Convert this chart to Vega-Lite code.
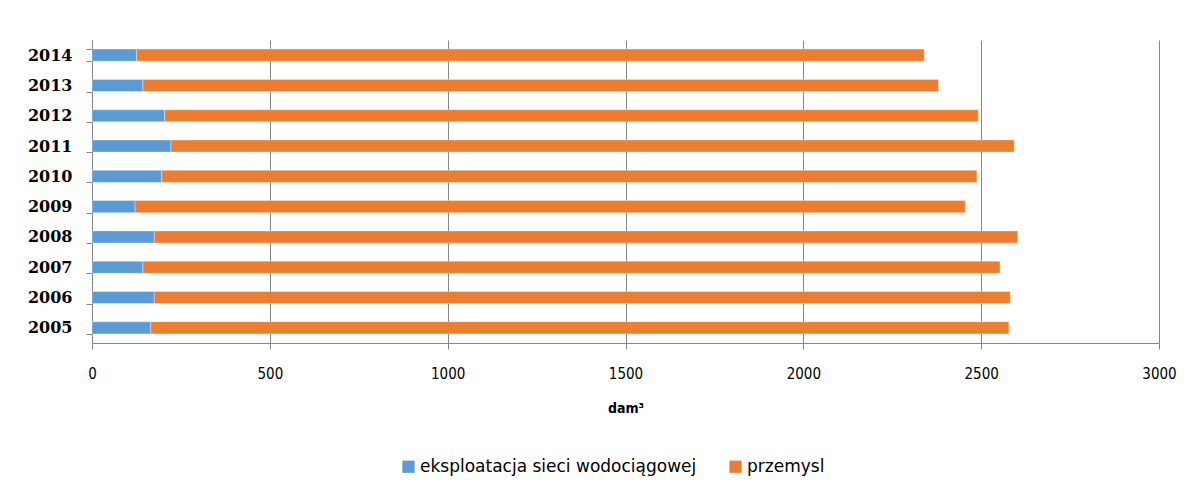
{
  "$schema": "https://vega.github.io/schema/vega-lite/v6.json",
  "width": 1067,
  "height": 303,
  "autosize": {"type": "none"},
  "padding": {"left": 92, "top": 40, "right": 38, "bottom": 159},
  "background": "white",
  "data": {"values": [
    {"rok": "2005", "kategoria": "eksploatacja sieci wodociągowej", "wartosc": 165, "kolejnosc": 1},
    {"rok": "2005", "kategoria": "przemysl", "wartosc": 2413, "kolejnosc": 2},
    {"rok": "2006", "kategoria": "eksploatacja sieci wodociągowej", "wartosc": 175, "kolejnosc": 1},
    {"rok": "2006", "kategoria": "przemysl", "wartosc": 2407, "kolejnosc": 2},
    {"rok": "2007", "kategoria": "eksploatacja sieci wodociągowej", "wartosc": 143, "kolejnosc": 1},
    {"rok": "2007", "kategoria": "przemysl", "wartosc": 2410, "kolejnosc": 2},
    {"rok": "2008", "kategoria": "eksploatacja sieci wodociągowej", "wartosc": 175, "kolejnosc": 1},
    {"rok": "2008", "kategoria": "przemysl", "wartosc": 2428, "kolejnosc": 2},
    {"rok": "2009", "kategoria": "eksploatacja sieci wodociągowej", "wartosc": 121, "kolejnosc": 1},
    {"rok": "2009", "kategoria": "przemysl", "wartosc": 2334, "kolejnosc": 2},
    {"rok": "2010", "kategoria": "eksploatacja sieci wodociągowej", "wartosc": 196, "kolejnosc": 1},
    {"rok": "2010", "kategoria": "przemysl", "wartosc": 2292, "kolejnosc": 2},
    {"rok": "2011", "kategoria": "eksploatacja sieci wodociągowej", "wartosc": 222, "kolejnosc": 1},
    {"rok": "2011", "kategoria": "przemysl", "wartosc": 2371, "kolejnosc": 2},
    {"rok": "2012", "kategoria": "eksploatacja sieci wodociągowej", "wartosc": 204, "kolejnosc": 1},
    {"rok": "2012", "kategoria": "przemysl", "wartosc": 2288, "kolejnosc": 2},
    {"rok": "2013", "kategoria": "eksploatacja sieci wodociągowej", "wartosc": 143, "kolejnosc": 1},
    {"rok": "2013", "kategoria": "przemysl", "wartosc": 2237, "kolejnosc": 2},
    {"rok": "2014", "kategoria": "eksploatacja sieci wodociągowej", "wartosc": 125, "kolejnosc": 1},
    {"rok": "2014", "kategoria": "przemysl", "wartosc": 2215, "kolejnosc": 2}
  ]},
  "mark": {"type": "bar", "stroke": "white", "strokeOpacity": 0.35, "strokeWidth": 1},
  "encoding": {
    "y": {
      "field": "rok", "type": "nominal", "sort": "descending",
      "scale": {"paddingInner": 0.6, "paddingOuter": 0.3},
      "axis": {
        "title": null, "labelFont": "DejaVu Serif", "labelFontWeight": "bold",
        "labelFontSize": 16, "labelColor": "#000000", "labelPadding": 14,
        "tickBand": "extent", "tickColor": "#868686", "tickSize": 6,
        "domainColor": "#868686", "grid": false
      }
    },
    "x": {
      "field": "wartosc", "type": "quantitative", "stack": "zero",
      "scale": {"domain": [0, 3000], "nice": false},
      "axis": {
        "title": "dam³", "titleFont": "DejaVu Sans Condensed, Liberation Sans", "titleFontWeight": "bold",
        "titleFontSize": 14, "titleColor": "#000000", "titlePadding": 20,
        "values": [0, 500, 1000, 1500, 2000, 2500, 3000], "format": "d", "labelFlush": false,
        "labelFont": "DejaVu Sans Condensed, Liberation Sans", "labelFontSize": 15,
        "labelColor": "#000000", "labelPadding": 17,
        "tickColor": "#868686", "tickSize": 6, "domainColor": "#868686",
        "grid": true, "gridColor": "#868686", "gridWidth": 1
      }
    },
    "color": {
      "field": "kategoria", "type": "nominal",
      "scale": {"domain": ["eksploatacja sieci wodociągowej", "przemysl"], "range": ["#5B9BD5", "#ED7D31"]},
      "legend": {
        "title": null, "orient": "none", "direction": "horizontal",
        "legendX": 308, "legendY": 418, "symbolType": "square", "symbolSize": 150,
        "symbolStrokeWidth": 0, "labelFont": "DejaVu Sans", "labelFontSize": 17,
        "labelColor": "#000000", "columnPadding": 30, "labelOffset": 3, "labelLimit": 0
      }
    },
    "order": {"field": "kolejnosc", "type": "quantitative"}
  },
  "config": {"view": {"stroke": null}}
}
